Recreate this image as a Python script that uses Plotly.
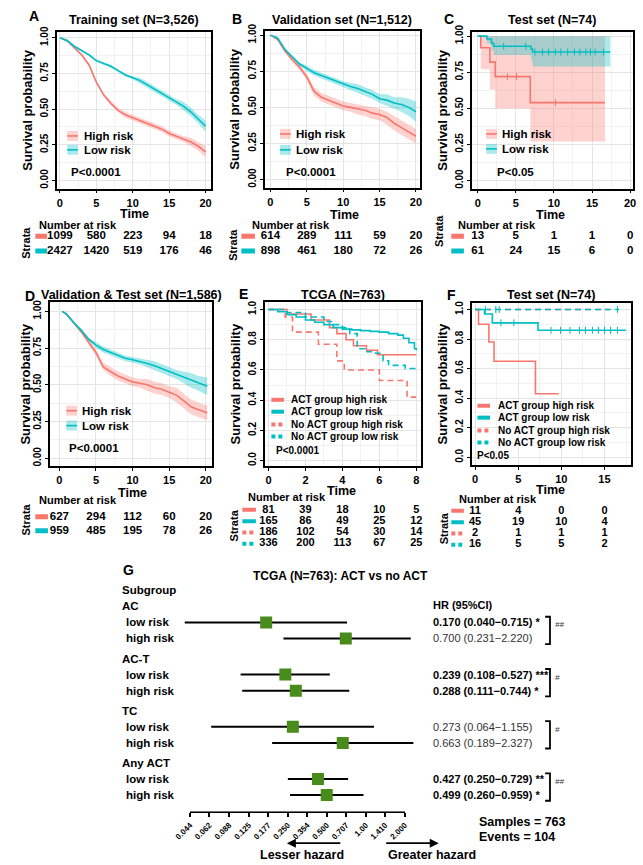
import math
import plotly.graph_objects as go

W, H = 643, 865
FONT = "Liberation Sans, Arial, sans-serif"
RED, TEAL = "#F8766D", "#00BFC4"
RED_FILL, TEAL_FILL = "rgba(248,118,109,0.33)", "rgba(0,191,196,0.33)"
GREEN = "#4A8C1C"

# ---------------- data ----------------
years = [0, 1, 2, 3, 4, 5, 6, 7, 8, 9, 10, 11, 12, 13, 14, 15, 16, 17, 18, 19, 20]

# A: training set
train_high = [1.00, 0.98, 0.93, 0.88, 0.81, 0.69, 0.60, 0.54, 0.49, 0.46, 0.44, 0.42, 0.40, 0.38, 0.36, 0.33, 0.31, 0.29, 0.27, 0.24, 0.20]
train_high_lo = [1.00, 0.97, 0.92, 0.87, 0.80, 0.68, 0.59, 0.53, 0.48, 0.44, 0.42, 0.40, 0.38, 0.36, 0.34, 0.31, 0.29, 0.27, 0.24, 0.21, 0.16]
train_high_hi = [1.00, 0.99, 0.94, 0.89, 0.82, 0.70, 0.61, 0.56, 0.51, 0.48, 0.46, 0.44, 0.42, 0.40, 0.38, 0.35, 0.33, 0.31, 0.30, 0.27, 0.24]
train_low = [1.00, 0.98, 0.94, 0.91, 0.88, 0.84, 0.82, 0.80, 0.77, 0.74, 0.72, 0.70, 0.67, 0.64, 0.61, 0.58, 0.55, 0.52, 0.48, 0.43, 0.38]
train_low_lo = [1.00, 0.97, 0.93, 0.90, 0.87, 0.83, 0.81, 0.79, 0.76, 0.73, 0.71, 0.68, 0.65, 0.62, 0.59, 0.56, 0.53, 0.49, 0.45, 0.40, 0.34]
train_low_hi = [1.00, 0.99, 0.95, 0.92, 0.89, 0.85, 0.83, 0.81, 0.78, 0.75, 0.73, 0.72, 0.69, 0.66, 0.63, 0.60, 0.57, 0.55, 0.51, 0.46, 0.42]

# B: validation set
valid_high = [1.00, 0.97, 0.89, 0.83, 0.78, 0.71, 0.61, 0.57, 0.55, 0.53, 0.51, 0.50, 0.49, 0.48, 0.46, 0.45, 0.43, 0.39, 0.36, 0.33, 0.30]
valid_high_lo = [1.00, 0.96, 0.88, 0.81, 0.76, 0.69, 0.58, 0.54, 0.52, 0.50, 0.48, 0.47, 0.45, 0.44, 0.42, 0.41, 0.38, 0.34, 0.31, 0.28, 0.25]
valid_high_hi = [1.00, 0.98, 0.91, 0.85, 0.80, 0.73, 0.64, 0.60, 0.58, 0.56, 0.54, 0.53, 0.52, 0.51, 0.50, 0.49, 0.47, 0.44, 0.41, 0.38, 0.35]
valid_low = [1.00, 0.98, 0.90, 0.85, 0.80, 0.77, 0.74, 0.72, 0.70, 0.68, 0.66, 0.645, 0.63, 0.61, 0.59, 0.56, 0.55, 0.53, 0.52, 0.50, 0.47]
valid_low_lo = [1.00, 0.97, 0.89, 0.84, 0.79, 0.75, 0.72, 0.70, 0.68, 0.66, 0.64, 0.62, 0.60, 0.58, 0.56, 0.53, 0.51, 0.49, 0.47, 0.44, 0.40]
valid_low_hi = [1.00, 0.99, 0.91, 0.86, 0.81, 0.79, 0.76, 0.74, 0.72, 0.70, 0.68, 0.67, 0.66, 0.64, 0.62, 0.59, 0.59, 0.57, 0.57, 0.56, 0.54]

# C: test set (step curves)
test_high_t = [0, 0.4, 1.6, 2.3, 6.9, 16.7]
test_high = [1.00, 0.92, 0.82, 0.72, 0.54, 0.54]
test_high_lo = [1.00, 0.77, 0.63, 0.50, 0.27, 0.27]
test_high_hi = [1.00, 1.00, 1.00, 1.00, 1.00, 1.00]
test_low_t = [0, 1.2, 1.8, 2.1, 7.0, 7.2, 17.4]
test_low = [1.00, 0.98, 0.95, 0.93, 0.91, 0.89, 0.89]
test_low_lo = [1.00, 0.95, 0.90, 0.87, 0.83, 0.79, 0.79]
test_low_hi = [1.00, 1.00, 1.00, 1.00, 1.00, 1.00, 1.00]
test_high_cens_t = [3.9, 5.1, 10.2]
test_high_cens = [0.72, 0.72, 0.54]
test_low_cens_t = [3.4, 6.3, 7.5, 8.5, 9.3, 10.2, 10.9, 11.8, 12.7, 13.4, 14.2, 14.8, 15.4, 16.5]
test_low_cens = [0.93, 0.93, 0.89, 0.89, 0.89, 0.89, 0.89, 0.89, 0.89, 0.89, 0.89, 0.89, 0.89, 0.89]

# D: validation & test set
vt_time = [0.4, 1, 2, 3, 4, 5, 6, 7, 8, 9, 10, 11, 12, 13, 14, 15, 16, 17, 18, 19, 20.2]
vt_high = [1.00, 0.98, 0.92, 0.86, 0.79, 0.72, 0.62, 0.59, 0.56, 0.54, 0.52, 0.51, 0.50, 0.48, 0.47, 0.45, 0.43, 0.39, 0.35, 0.33, 0.31]
vt_high_lo = [1.00, 0.97, 0.91, 0.85, 0.77, 0.70, 0.60, 0.56, 0.53, 0.51, 0.49, 0.48, 0.46, 0.44, 0.43, 0.41, 0.38, 0.34, 0.30, 0.28, 0.26]
vt_high_hi = [1.00, 0.99, 0.93, 0.87, 0.81, 0.74, 0.65, 0.62, 0.59, 0.57, 0.55, 0.54, 0.54, 0.52, 0.51, 0.49, 0.48, 0.44, 0.40, 0.38, 0.36]
vt_low = [1.00, 0.98, 0.92, 0.87, 0.81, 0.77, 0.74, 0.72, 0.70, 0.68, 0.67, 0.66, 0.645, 0.63, 0.61, 0.59, 0.57, 0.55, 0.53, 0.51, 0.49]
vt_low_lo = [1.00, 0.97, 0.91, 0.86, 0.80, 0.75, 0.72, 0.70, 0.68, 0.66, 0.65, 0.64, 0.62, 0.60, 0.58, 0.56, 0.54, 0.51, 0.48, 0.46, 0.43]
vt_low_hi = [1.00, 0.99, 0.93, 0.88, 0.82, 0.79, 0.76, 0.74, 0.72, 0.70, 0.69, 0.68, 0.67, 0.66, 0.64, 0.62, 0.60, 0.59, 0.58, 0.56, 0.55]

# E: TCGA, ACT vs no ACT
tcga_act_high_t = [0, 1.0, 2.3, 3.3, 3.7, 4.2, 4.6, 5.3, 5.9, 8.0]
tcga_act_high = [1.00, 0.97, 0.93, 0.88, 0.84, 0.80, 0.76, 0.73, 0.70, 0.70]
tcga_act_low_t = [0, 0.5, 1, 1.5, 2, 2.5, 3, 3.5, 4, 4.5, 5, 5.5, 6, 6.5, 7, 7.3, 7.6, 7.9, 8.0]
tcga_act_low = [1.00, 0.985, 0.965, 0.95, 0.93, 0.915, 0.90, 0.88, 0.87, 0.865, 0.86, 0.855, 0.85, 0.84, 0.83, 0.81, 0.78, 0.74, 0.73]
tcga_no_high_t = [0, 0.9, 1.3, 2.7, 3.7, 4.1, 6.0, 7.5, 8.0]
tcga_no_high = [1.00, 0.95, 0.85, 0.77, 0.66, 0.60, 0.53, 0.42, 0.42]
tcga_no_low_t = [0, 1, 2, 3, 3.5, 4, 4.4, 4.8, 5.2, 5.8, 6.2, 6.5, 7.4, 8.0]
tcga_no_low = [1.00, 0.98, 0.95, 0.92, 0.90, 0.88, 0.84, 0.74, 0.72, 0.71, 0.66, 0.63, 0.61, 0.59]

# F: test set, ACT vs no ACT
test_act_high_t = [0, 0.4, 1.6, 2.2, 7.0, 9.7]
test_act_high = [1.00, 0.90, 0.78, 0.65, 0.43, 0.43]
test_act_low_t = [0, 1.1, 2.0, 7.3, 17.5]
test_act_low = [1.00, 0.97, 0.91, 0.86, 0.86]
test_no_high_t = [0, 15.5]
test_no_high = [1.00, 1.00]
test_no_low_t = [0, 16.7]
test_no_low = [1.00, 1.00]
test_act_low_cens_t = [3.0, 4.5, 8.8, 9.9, 11.0, 12.1, 12.8, 13.6, 14.3, 15.0, 15.7, 16.5]
test_act_low_cens = [0.91, 0.91, 0.86, 0.86, 0.86, 0.86, 0.86, 0.86, 0.86, 0.86, 0.86, 0.86]
test_no_low_cens_t = [1.2, 2.4, 2.8, 16.5]
test_no_low_cens = [1.00, 1.00, 1.00, 1.00]

# numbers at risk
risk_t20 = [0, 5, 10, 15, 20]
train_risk = [[1099, 580, 223, 94, 18], [2427, 1420, 519, 176, 46]]
valid_risk = [[614, 289, 111, 59, 20], [898, 461, 180, 72, 26]]
test_risk = [[13, 5, 1, 1, 0], [61, 24, 15, 6, 0]]
vt_risk = [[627, 294, 112, 60, 20], [959, 485, 195, 78, 26]]
risk_t8 = [0, 2, 4, 6, 8]
tcga_risk = [[81, 39, 18, 10, 5], [165, 86, 49, 25, 12], [186, 102, 54, 30, 14], [336, 200, 113, 67, 25]]
risk_t15 = [0, 5, 10, 15]
test4_risk = [[11, 4, 0, 0], [45, 19, 10, 4], [2, 1, 1, 1], [16, 5, 5, 2]]

two_groups = ["High risk", "Low risk"]
four_groups = ["ACT group high risk", "ACT group low risk", "No ACT group high risk", "No ACT group low risk"]

# G: forest plot
subgroups = ["AC", "AC-T", "TC", "Any ACT"]
levels = ["low risk", "high risk"]
hr_est = [0.170, 0.700, 0.239, 0.288, 0.273, 0.663, 0.427, 0.499]
hr_low = [0.040, 0.231, 0.108, 0.111, 0.064, 0.189, 0.250, 0.260]
hr_high = [0.715, 2.220, 0.527, 0.744, 1.155, 2.327, 0.729, 0.959]
hr_star = ["*", "", "***", "*", "", "", "**", "*"]
interaction = ["##", "#", "#", "##"]
hr_ticks = ["0.044", "0.062", "0.088", "0.125", "0.177", "0.250", "0.354", "0.500", "0.707", "1.00", "1.410", "2.000"]


# ---------------- helpers ----------------
def X(p):
    return p / W


def Y(p):
    return 1 - p / H


fig = go.Figure()
shapes, ann, axes = [], [], {}


def txt(s, x, y, size=12, bold=True, anchor="left", angle=0, color="black"):
    if bold:
        s = "<b>" + s + "</b>"
    ann.append(dict(text=s, x=X(x), y=Y(y), xref="paper", yref="paper", showarrow=False,
                    xanchor=anchor, yanchor="middle", textangle=angle,
                    font=dict(size=size, color=color, family=FONT)))


def km_axes(n, box, xr, yr, xdt, ydt, yfmt):
    x0, x1, y0, y1 = box
    common = dict(ticks="outside", ticklen=3, tickwidth=1.2, tickcolor="black",
                  showline=True, mirror=True, linecolor="black", linewidth=1.6,
                  showgrid=True, gridcolor="#E4E4E4", zeroline=False)
    axes[f"xaxis{n}"] = dict(domain=[X(x0), X(x1)], range=xr, anchor=f"y{n}", tick0=0, dtick=xdt,
                             tickfont=dict(size=11, family=FONT, color="black", weight="bold"),
                             minor=dict(dtick=xdt / 2, showgrid=True, gridcolor="#F2F2F2"), **common)
    axes[f"yaxis{n}"] = dict(domain=[Y(y1), Y(y0)], range=yr, anchor=f"x{n}", tick0=0, dtick=ydt,
                             tickformat=yfmt, tickangle=-90,
                             tickfont=dict(size=10, family=FONT, color="black", weight="bold"),
                             minor=dict(dtick=ydt / 2, showgrid=True, gridcolor="#F2F2F2"), **common)


def km_curve(n, t, s, color, shape="linear", lo=None, hi=None, fill=None, dash="solid", width=1.6):
    ax = dict(xaxis=f"x{n}", yaxis=f"y{n}", showlegend=False, hoverinfo="skip")
    if lo is not None:
        fig.add_trace(go.Scatter(x=t, y=lo, mode="lines", line=dict(width=0, shape=shape), **ax))
        fig.add_trace(go.Scatter(x=t, y=hi, mode="lines", line=dict(width=0, shape=shape),
                                 fill="tonexty", fillcolor=fill, **ax))
    fig.add_trace(go.Scatter(x=t, y=s, mode="lines", line=dict(color=color, width=width, shape=shape, dash=dash), **ax))


def censor(n, t, s, color):
    fig.add_trace(go.Scatter(x=t, y=s, mode="markers", xaxis=f"x{n}", yaxis=f"y{n}", showlegend=False,
                             marker=dict(symbol="line-ns", size=5, line=dict(color=color, width=1))))


def risk_table(n, box_x, xr, top, bottom, times, rows, keys, key_x, size):
    m = n + 6
    axes[f"xaxis{m}"] = dict(domain=[X(box_x[0]), X(box_x[1])], range=xr, anchor=f"y{m}", visible=False)
    axes[f"yaxis{m}"] = dict(domain=[Y(bottom), Y(top)], range=[len(rows) - 0.5, -0.5], anchor=f"x{m}", visible=False)
    for i, row in enumerate(rows):
        fig.add_trace(go.Scatter(x=times, y=[i] * len(row), text=[str(v) for v in row], mode="text",
                                 xaxis=f"x{m}", yaxis=f"y{m}", showlegend=False, cliponaxis=False,
                                 textfont=dict(size=size, family=FONT, color="black", weight="bold")))
        color, dash = keys[i]
        shapes.append(dict(type="line", xref="paper", yref=f"y{m}", x0=X(key_x[0]), x1=X(key_x[1]), y0=i, y1=i,
                           line=dict(color=color, width=5 if len(rows) == 2 else 4, dash=dash)))


def legend(entries, kx, tx, ys, size, ribbon):
    for (label, color, dash, fill), y in zip(entries, ys):
        if ribbon:
            shapes.append(dict(type="rect", xref="paper", yref="paper", x0=X(kx[0]), x1=X(kx[1]),
                               y0=Y(y + 5), y1=Y(y - 5), fillcolor=fill, line=dict(width=0)))
            shapes.append(dict(type="line", xref="paper", yref="paper", x0=X(kx[0]), x1=X(kx[1]),
                               y0=Y(y), y1=Y(y), line=dict(color=color, width=1.6)))
        else:
            shapes.append(dict(type="line", xref="paper", yref="paper", x0=X(kx[0]), x1=X(kx[1]),
                               y0=Y(y), y1=Y(y), line=dict(color=color, width=4, dash=dash)))
        txt(label, tx, y, size=size)


# ---------------- KM panels ----------------
two_keys = [(RED, "solid"), (TEAL, "solid")]
four_keys = [(RED, "solid"), (TEAL, "solid"), (RED, "4px,3px"), (TEAL, "4px,3px")]
two_leg = [(two_groups[0], RED, "solid", RED_FILL), (two_groups[1], TEAL, "solid", TEAL_FILL)]
four_leg = [(four_groups[0], RED, "solid", None), (four_groups[1], TEAL, "solid", None),
            (four_groups[2], RED, "4px,3px", None), (four_groups[3], TEAL, "4px,3px", None)]

panels = [
    dict(n=1, letter="A", lx=11, ly=9, title="Training set (N=3,526)", ty=13, box=(42, 202, 25, 183),
         xr=[-0.45, 20.8], yr=[-0.056, 1.042], xdt=5, ydt=0.25, fmt=".2f"),
    dict(n=2, letter="B", lx=221, ly=12, title="Validation set (N=1,512)", ty=13, box=(257, 418, 24, 182),
         xr=[-0.8, 20.6], yr=[-0.055, 1.03], xdt=5, ydt=0.25, fmt=".2f"),
    dict(n=3, letter="C", lx=440, ly=12, title="Test set (N=74)", ty=13, box=(471, 638, 25, 183),
         xr=[-0.8, 20.4], yr=[-0.055, 1.03], xdt=5, ydt=0.25, fmt=".2f"),
    dict(n=4, letter="D", lx=7, ly=291, title="Validation & Test set (N=1,586)", ty=290, box=(35, 203, 297, 463),
         xr=[-1.3, 20.9], yr=[-0.054, 1.066], xdt=5, ydt=0.25, fmt=".2f"),
    dict(n=5, letter="E", lx=228, ly=289, title="TCGA (N=763)", ty=290, box=(257, 419, 297, 463),
         xr=[-0.21, 8.27], yr=[-0.037, 1.052], xdt=2, ydt=0.2, fmt=".1f"),
    dict(n=6, letter="F", lx=444, ly=290, title="Test set (N=74)", ty=290, box=(471, 636, 298, 462),
         xr=[-0.4, 18.1], yr=[-0.054, 1.047], xdt=5, ydt=0.2, fmt=".1f"),
]

for p in panels:
    km_axes(p["n"], p["box"], p["xr"], p["yr"], p["xdt"], p["ydt"], p["fmt"])
    x0, x1, y0, y1 = p["box"]
    txt(p["letter"], p["lx"], p["ly"], size=14)
    txt(p["title"], (x0 + x1) / 2, p["ty"], size=12.5, anchor="center")

# curves
km_curve(1, years, train_high, RED, lo=train_high_lo, hi=train_high_hi, fill=RED_FILL)
km_curve(1, years, train_low, TEAL, lo=train_low_lo, hi=train_low_hi, fill=TEAL_FILL)
km_curve(2, years, valid_high, RED, lo=valid_high_lo, hi=valid_high_hi, fill=RED_FILL)
km_curve(2, years, valid_low, TEAL, lo=valid_low_lo, hi=valid_low_hi, fill=TEAL_FILL)
km_curve(3, test_high_t, test_high, RED, shape="hv", lo=test_high_lo, hi=test_high_hi, fill=RED_FILL)
km_curve(3, test_low_t, test_low, TEAL, shape="hv", lo=test_low_lo, hi=test_low_hi, fill=TEAL_FILL)
censor(3, test_high_cens_t, test_high_cens, RED)
censor(3, test_low_cens_t, test_low_cens, TEAL)
km_curve(4, vt_time, vt_high, RED, lo=vt_high_lo, hi=vt_high_hi, fill=RED_FILL)
km_curve(4, vt_time, vt_low, TEAL, lo=vt_low_lo, hi=vt_low_hi, fill=TEAL_FILL)
km_curve(5, tcga_act_high_t, tcga_act_high, RED, shape="hv")
km_curve(5, tcga_act_low_t, tcga_act_low, TEAL, shape="hv")
km_curve(5, tcga_no_high_t, tcga_no_high, RED, shape="hv", dash="6px,4px")
km_curve(5, tcga_no_low_t, tcga_no_low, TEAL, shape="hv", dash="6px,4px")
km_curve(6, test_act_high_t, test_act_high, RED, shape="hv")
km_curve(6, test_act_low_t, test_act_low, TEAL, shape="hv")
km_curve(6, test_no_high_t, test_no_high, RED, shape="hv", dash="6px,4px")
km_curve(6, test_no_low_t, test_no_low, TEAL, shape="hv", dash="6px,4px")
censor(6, test_act_low_cens_t, test_act_low_cens, TEAL)
censor(6, test_no_low_cens_t, test_no_low_cens, TEAL)

# legends and p-values
legend(two_leg, (53, 64), 68, [130, 144], 11.5, True)
txt("P<0.0001", 55, 166, size=11.5)
legend(two_leg, (273, 284), 287, [128, 144], 11.5, True)
txt("P<0.0001", 277, 166, size=11.5)
legend(two_leg, (486, 497), 500, [128, 143], 11.5, True)
txt("P<0.05", 495, 166, size=11.5)
legend(two_leg, (52, 63), 66, [407, 422], 11.5, True)
txt("P<0.0001", 53, 445, size=11.5)
legend(four_leg, (264, 277), 282, [396, 408, 421, 433], 10, False)
txt("P<0.0001", 267, 447, size=10)
legend(four_leg, (477, 490), 496, [402, 414, 427, 439], 10, False)
txt("P<0.05", 475, 452, size=10)

# axis titles
for tx, ty, sx, sy in [(122, 209, 12, 104), (340, 209.5, 226, 103), (553, 209.5, 441, 104),
                       (120, 490, 10, 380), (337, 487.5, 227, 380), (553, 486.5, 441, 380)]:
    txt("Time", tx, ty, size=12.5, anchor="center")
    txt("Survival probability", sx, sy, size=13, anchor="center", angle=-90)

# risk tables
risk_table(1, (42, 202), panels[0]["xr"], 223.5, 253.5, risk_t20, train_risk, two_keys, (20, 32), 11.5)
risk_table(2, (257, 418), panels[1]["xr"], 223.5, 253.5, risk_t20, valid_risk, two_keys, (233, 247), 11.5)
risk_table(3, (471, 638), panels[2]["xr"], 223.5, 253.5, risk_t20, test_risk, two_keys, (450, 463), 11.5)
risk_table(4, (35, 203), panels[3]["xr"], 507, 535, risk_t20, vt_risk, two_keys, (20, 33), 11.5)
risk_table(5, (257, 419), panels[4]["xr"], 501.3, 546.7, risk_t8, tcga_risk, four_keys, (234, 248), 11)
risk_table(6, (471, 636), panels[5]["xr"], 502.3, 547.7, risk_t15, test4_risk, four_keys, (450, 463), 11)

for nx, ny, sx, sy in [(22, 219.5, 10, 238), (242, 219.5, 224, 240), (455, 219.5, 437, 226),
                       (22, 497.5, 10, 517), (238, 494.5, 225, 523), (456, 496, 442, 526)]:
    txt("Number at risk", nx, ny, size=11)
    txt("Strata", sx, sy, size=11, anchor="center", angle=-90)

# ---------------- G: forest plot ----------------
row_y, row_label, row_indent = [], [], []
pos = 0.0
row_y.append(pos); row_label.append("Subgroup"); row_indent.append(False)
est_rows = []
for gi, g in enumerate(subgroups):
    pos += 1.0 if gi == 0 else 1.25
    row_y.append(pos); row_label.append(g); row_indent.append(False)
    for lv in levels:
        pos += 1.0
        row_y.append(pos); row_label.append(lv); row_indent.append(True)
        est_rows.append(pos)

ROW0, ROWH = 588.0, 16.2  # pixel of first row, pixels per row unit
G_TOP, G_BOT = 580.0, 811.0
yr_g = [(G_BOT - ROW0) / ROWH, (G_TOP - ROW0) / ROWH]

lo_v, hi_v = float(hr_ticks[0]), float(hr_ticks[-1])
AX0, AX1 = 180.0, 402.0
ppd = (AX1 - AX0) / (math.log10(hi_v) - math.log10(lo_v))
D0, D1 = 160.0, 422.0
# visible HR axis (0.044 .. 2.000) and a wider, hidden axis with the same scale for the CI lines
axes["xaxis13"] = dict(domain=[X(AX0), X(AX1)], type="log", range=[math.log10(lo_v), math.log10(hi_v)],
                       anchor="y13", tickmode="array", tickvals=[float(t) for t in hr_ticks], ticktext=hr_ticks,
                       tickangle=-45, ticks="outside", ticklen=4, tickwidth=1.5, tickcolor="black",
                       showline=True, linecolor="black", linewidth=2, showgrid=False, zeroline=False,
                       tickfont=dict(size=8, family=FONT, color="black", weight="bold"))
axes["xaxis14"] = dict(domain=[X(D0), X(D1)], type="log", anchor="y13", visible=False,
                       range=[math.log10(lo_v) - (AX0 - D0) / ppd, math.log10(hi_v) + (D1 - AX1) / ppd])
axes["yaxis13"] = dict(domain=[Y(G_BOT), Y(G_TOP)], range=yr_g, anchor="x13", visible=False)

# reference line at HR = 1 (on the visible axis)
fig.add_trace(go.Scatter(x=[1, 1], y=[(590 - ROW0) / ROWH, yr_g[0]], mode="lines", xaxis="x13", yaxis="y13",
                         line=dict(color="#6DB6C6", width=1.6), showlegend=False, hoverinfo="skip"))
ci_x, ci_y = [], []
for lo, hi, yy in zip(hr_low, hr_high, est_rows):
    ci_x += [lo, hi, None]
    ci_y += [yy, yy, None]
fig.add_trace(go.Scatter(x=ci_x, y=ci_y, mode="lines", xaxis="x14", yaxis="y13",
                         line=dict(color="black", width=2), showlegend=False, hoverinfo="skip"))
fig.add_trace(go.Scatter(x=hr_est, y=est_rows, mode="markers", xaxis="x14", yaxis="y13",
                         marker=dict(symbol="square", size=12, color=GREEN, line=dict(width=0)),
                         showlegend=False))

for lab, yy, ind in zip(row_label, row_y, row_indent):
    ann.append(dict(text="<b>" + lab + "</b>", x=X(112 if ind else 108), y=yy, xref="paper", yref="y13",
                    showarrow=False, xanchor="left", yanchor="middle",
                    font=dict(size=11.5, family=FONT, color="black")))

for est, lo, hi, st, yy in zip(hr_est, hr_low, hr_high, hr_star, est_rows):
    s = f"{est:.3f} ({lo:.3f}\u2212{hi:.3f})"
    if st:
        s = "<b>" + s + " " + st + "</b>"
        col = "black"
    else:
        col = "#333333"
    ann.append(dict(text=s, x=X(429), y=yy, xref="paper", yref="y13", showarrow=False,
                    xanchor="left", yanchor="middle", font=dict(size=11, family=FONT, color=col)))

for gi, mark in enumerate(interaction):
    y_a, y_b = est_rows[2 * gi] - 0.35, est_rows[2 * gi + 1] + 0.35
    shapes.append(dict(type="path", xref="paper", yref="y13",
                       path=f"M {X(547)},{y_a} L {X(552)},{y_a} L {X(552)},{y_b} L {X(547)},{y_b}",
                       line=dict(color="black", width=1.8)))
    ann.append(dict(text="<i>" + mark + "</i>", x=X(555), y=est_rows[2 * gi] + 0.15, xref="paper", yref="y13",
                    showarrow=False, xanchor="left", yanchor="middle",
                    font=dict(size=8, family=FONT, color="#333333")))

txt("G", 109, 568, size=14)
txt("TCGA (N=763): ACT vs no ACT", 335, 574, size=12, anchor="center")
txt("HR (95%CI)", 429, 603, size=11)
txt("Samples = 763", 477, 822, size=12.5)
txt("Events = 104", 477, 837, size=12.5)
txt("Lesser hazard", 296, 855, size=12.5, anchor="center")
txt("Greater hazard", 382, 855, size=12.5)
for head, tail in [(280, 335), (437, 383)]:
    ann.append(dict(text="", x=X(head), y=Y(843), ax=tail - head, ay=0, xref="paper", yref="paper",
                    axref="pixel", ayref="pixel", showarrow=True, arrowhead=2, arrowsize=1,
                    arrowwidth=1.8, arrowcolor="black"))

fig.update_layout(width=W, height=H, margin=dict(l=0, r=0, t=0, b=0),
                  plot_bgcolor="white", paper_bgcolor="white",
                  font=dict(family=FONT, color="black"),
                  showlegend=False, shapes=shapes, annotations=ann, **axes)

# the page body has a default 8px margin; remove it so the figure fills the window
fig.write_html("out.html", config={"displayModeBar": False},
               post_script="document.body.style.margin='0';")
